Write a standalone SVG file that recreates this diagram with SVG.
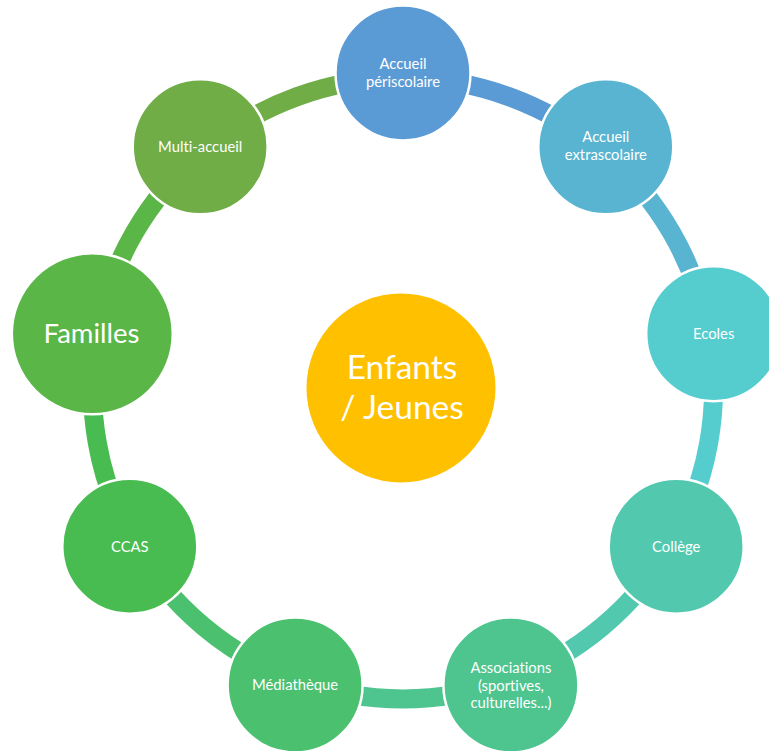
<svg xmlns="http://www.w3.org/2000/svg" width="769" height="751" viewBox="0 0 769 751">
<style>
.arc{fill:none;stroke-width:19;stroke-linecap:butt}
.node{stroke:#FFFFFF;stroke-width:2.5}
text{font-variant-ligatures:none;font-feature-settings:"liga" 0,"dlig" 0}
.lbl{font-family:Lato,"Liberation Sans",sans-serif;font-size:14.8px;fill:#FFFFFF;text-anchor:middle}
.big{font-family:Lato,"Liberation Sans",sans-serif;fill:#FFFFFF;text-anchor:middle}
</style>
<rect width="769" height="751" fill="#FFFFFF"/>
<g id="connectors">
<path class="arc" stroke="#5B9BD5" d="M403 78 A310.5 310.5 0 0 1 602.6 150.6"/>
<path class="arc" stroke="#59B4D1" d="M602.6 150.6 A310.5 310.5 0 0 1 708.8 334.6"/>
<path class="arc" stroke="#55CCCD" d="M708.8 334.6 A310.5 310.5 0 0 1 671.9 543.75"/>
<path class="arc" stroke="#52C9AF" d="M671.9 543.75 A310.5 310.5 0 0 1 509.2 680.3"/>
<path class="arc" stroke="#4EC58F" d="M509.2 680.3 A310.5 310.5 0 0 1 296.8 680.3"/>
<path class="arc" stroke="#4BC16F" d="M296.8 680.3 A310.5 310.5 0 0 1 134.1 543.75"/>
<path class="arc" stroke="#48BC50" d="M134.1 543.75 A310.5 310.5 0 0 1 97.2 334.6"/>
<path class="arc" stroke="#59B647" d="M97.2 334.6 A310.5 310.5 0 0 1 203.4 150.6"/>
<path class="arc" stroke="#70AD47" d="M203.4 150.6 A310.5 310.5 0 0 1 403 78"/>
</g>
<g id="center">
<circle cx="401" cy="388" r="94.5" fill="#FFC000"/>
<text class="big" font-size="33.5" x="402" y="379">Enfants</text>
<text class="big" font-size="33.5" x="402" y="418.5">/ Jeunes</text>
</g>
<g id="periscolaire">
<circle class="node" cx="403" cy="73" r="67.5" fill="#5B9BD5"/>
<text class="lbl" x="403" y="69">Accueil</text>
<text class="lbl" x="403" y="86.5">périscolaire</text>
</g>
<g id="extrascolaire">
<circle class="node" cx="605.8" cy="146.8" r="67.5" fill="#59B4D1"/>
<text class="lbl" x="605.8" y="142">Accueil</text>
<text class="lbl" x="605.8" y="159.5">extrascolaire</text>
</g>
<g id="ecoles">
<circle class="node" cx="713.7" cy="333.7" r="67.5" fill="#55CCCD"/>
<text class="lbl" x="713.7" y="338.5">Ecoles</text>
</g>
<g id="college">
<circle class="node" cx="676.2" cy="546.25" r="67.5" fill="#52C9AF"/>
<text class="lbl" x="676.2" y="551.5">Collège</text>
</g>
<g id="associations">
<circle class="node" cx="510.9" cy="685" r="67.5" fill="#4EC58F"/>
<text class="lbl" x="510.9" y="673">Associations</text>
<text class="lbl" x="510.9" y="690.5">(sportives,</text>
<text class="lbl" x="510.9" y="708">culturelles...)</text>
</g>
<g id="mediatheque">
<circle class="node" cx="295.1" cy="685" r="67.5" fill="#4BC16F"/>
<text class="lbl" x="295.1" y="690">Médiathèque</text>
</g>
<g id="ccas">
<circle class="node" cx="129.8" cy="546.25" r="67.5" fill="#48BC50"/>
<text class="lbl" x="129.8" y="551.5">CCAS</text>
</g>
<g id="familles">
<circle class="node" cx="92.3" cy="333.7" r="80.5" fill="#59B647"/>
<text class="big" font-size="27.5" x="91.5" y="342.5">Familles</text>
</g>
<g id="multiaccueil">
<circle class="node" cx="200.2" cy="146.8" r="67.5" fill="#70AD47"/>
<text class="lbl" x="200.2" y="151.5">Multi-accueil</text>
</g>
</svg>
